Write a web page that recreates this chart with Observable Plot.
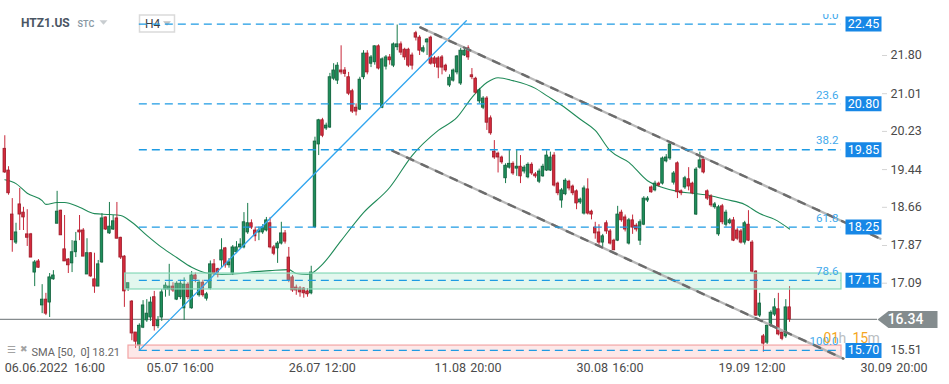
<!DOCTYPE html>
<html><head><meta charset="utf-8">
<script src="https://cdn.jsdelivr.net/npm/d3@7"></script>
<script src="https://cdn.jsdelivr.net/npm/@observablehq/plot@0.6"></script>
<style>html,body{margin:0;padding:0;background:#fff;}#chart{width:949px;height:384px;overflow:hidden;}</style>
</head><body><div id="chart"></div>
<script>
// ---- data (H4 candles, HTZ1.US) ----
const opens = [19.87,19.42,18.51,17.93,18.72,18.55,18.10,18.10,17.31,17.54,
16.63,16.75,16.69,17.17,18.32,18.59,17.79,17.58,17.50,17.73,
18.18,18.18,17.27,17.71,17.17,17.02,17.52,18.45,18.12,18.20,
18.43,18.03,17.64,16.98,16.71,16.07,15.80,16.17,16.32,16.38,
16.80,16.20,16.38,16.96,16.96,17.02,16.75,16.80,16.57,17.06,
16.57,17.25,16.84,17.10,16.77,16.98,17.48,17.38,17.56,17.81,
17.46,17.29,17.73,17.83,17.83,18.14,18.33,18.18,18.14,18.14,
18.18,18.33,17.83,17.81,17.91,18.12,17.62,17.21,17.00,16.98,
16.98,16.92,16.88,18.25,19.96,20.46,20.29,20.31,21.32,21.28,
21.49,21.49,21.35,21.06,20.72,20.68,21.35,21.84,21.63,21.66,
21.99,20.72,21.57,21.76,21.59,21.97,22.03,21.92,21.92,21.80,
22.26,22.17,21.88,22.07,22.17,21.74,21.74,21.76,21.59,21.18,
21.28,21.45,21.22,21.80,21.95,21.39,21.32,20.85,20.72,20.91,
20.50,19.81,19.77,19.69,19.26,19.48,19.56,19.46,19.50,19.40,
19.28,19.54,19.34,19.19,19.30,19.42,19.42,19.73,19.15,18.80,
18.93,19.19,19.09,18.99,18.76,18.53,19.03,18.57,18.24,18.14,
17.93,18.33,18.16,17.97,17.97,18.55,18.45,17.91,18.39,18.28,
17.97,18.30,18.80,19.07,19.01,19.15,19.15,19.61,19.67,19.17,
19.57,18.99,19.07,19.24,19.15,18.51,19.48,19.65,18.99,18.88,
18.66,18.10,18.68,18.30,18.33,18.39,18.18,18.16,17.93,18.30,
17.93,17.33,16.42,15.99,15.86,16.21,16.44,16.55,16.07,15.99,16.59];
const highs = [20.14,19.50,18.84,18.33,19.05,18.66,18.61,18.12,17.56,17.58,
17.06,16.88,17.29,17.35,18.99,18.60,18.49,17.60,17.97,18.14,
18.49,18.22,18.01,17.72,17.71,17.56,18.53,18.46,18.76,18.49,
18.76,18.04,17.66,17.09,16.73,16.07,16.25,16.73,16.75,16.80,
16.92,16.40,16.96,17.10,17.48,17.10,17.12,17.15,17.20,17.10,
17.33,17.30,17.15,17.15,16.90,17.55,17.58,17.40,18.01,17.83,
17.60,17.87,17.95,18.01,18.55,18.74,18.40,18.25,18.25,18.30,
18.45,18.45,17.87,17.95,18.35,18.18,17.83,17.25,17.05,17.02,
17.00,16.98,17.44,20.11,20.48,20.50,20.40,21.43,21.63,21.65,
22.00,21.55,21.45,21.10,20.80,21.35,21.90,21.90,21.80,22.00,
22.02,21.75,21.80,21.82,22.06,22.43,22.08,21.95,21.95,21.85,
22.30,22.21,22.00,22.15,22.20,21.78,21.78,21.80,21.62,21.40,
21.52,21.80,21.95,21.95,22.00,21.53,21.35,21.12,20.95,20.95,
20.55,20.04,19.80,19.72,19.56,19.85,19.60,19.85,19.73,19.52,
19.58,19.58,19.38,19.45,19.55,19.83,19.80,19.79,19.18,19.05,
19.25,19.22,19.12,19.02,18.85,19.10,19.25,18.60,18.35,18.30,
18.10,18.38,18.20,18.00,18.68,18.60,18.50,18.43,18.50,18.32,
18.40,18.88,18.88,19.10,19.20,19.18,19.70,19.75,20.00,19.40,
19.60,19.02,19.30,19.48,19.18,19.48,19.80,19.70,19.02,18.92,
18.76,18.70,18.72,18.60,18.43,18.45,18.22,18.20,18.37,18.59,
17.97,17.35,16.88,16.03,16.25,16.52,16.77,16.88,16.10,16.75,17.02];
const lows = [19.36,18.91,17.73,17.89,18.18,18.18,17.85,17.62,17.02,17.40,
16.46,16.42,16.38,17.15,18.32,18.08,17.54,17.29,17.31,17.62,
17.97,17.64,17.27,17.21,16.88,17.02,17.50,18.18,18.10,18.18,
18.01,17.58,16.59,16.92,15.90,15.74,15.70,16.15,16.28,16.30,
16.10,16.15,16.30,16.80,16.82,16.90,16.73,16.75,16.32,16.75,
16.55,17.10,16.80,16.80,16.72,16.95,17.25,17.20,17.40,17.40,
17.40,17.25,17.70,17.80,17.80,18.10,18.20,17.95,17.97,18.10,
18.15,17.80,17.66,17.50,17.88,17.90,17.10,16.90,16.84,16.80,
16.78,16.80,16.85,18.22,19.73,20.10,20.25,20.29,21.28,21.20,
21.40,21.35,20.97,20.60,20.55,20.66,21.30,21.40,21.55,21.60,
21.50,20.70,21.50,21.60,21.55,21.90,21.80,21.70,21.55,21.50,
22.10,21.80,21.85,21.80,21.60,21.55,21.32,21.40,21.45,21.14,
21.25,21.40,21.18,21.78,21.70,21.30,21.00,20.80,20.68,20.25,
20.15,19.65,19.37,19.55,19.15,19.45,19.32,19.30,19.15,19.35,
19.25,19.32,19.26,19.15,19.28,19.40,19.40,19.08,18.90,18.64,
18.90,19.00,18.90,18.61,18.72,18.50,18.50,18.40,18.00,17.85,
17.83,18.10,17.88,17.77,17.95,18.35,18.15,17.88,18.10,18.15,
17.87,18.28,18.76,18.95,18.98,19.08,19.12,19.58,19.63,19.12,
18.84,18.90,19.03,19.00,18.92,18.49,19.45,19.35,18.80,18.66,
18.62,18.06,18.30,18.25,18.30,17.95,17.97,17.90,17.88,17.95,
17.30,16.40,16.38,15.66,15.82,16.18,16.40,16.00,15.90,15.95,16.28];
const closes = [19.38,18.95,17.98,18.14,18.51,18.45,18.03,17.62,17.52,17.41,
16.75,16.46,17.21,17.25,18.57,18.08,17.54,17.46,17.73,17.95,
18.14,17.64,17.71,17.23,17.02,17.48,18.43,18.20,18.26,18.37,
18.01,17.62,16.92,17.09,16.05,15.88,16.21,16.63,16.46,16.69,
16.20,16.32,16.90,17.04,17.02,16.94,17.08,17.08,17.06,16.80,
17.25,17.17,17.10,16.84,16.86,17.48,17.29,17.31,17.77,17.46,
17.52,17.83,17.83,17.89,18.35,18.33,18.24,18.06,18.18,18.24,
18.39,17.83,17.70,17.91,18.12,17.95,17.15,16.94,16.94,16.90,
16.88,16.86,17.31,20.02,20.46,20.14,20.35,21.35,21.49,21.59,
21.45,21.42,21.01,20.64,20.64,21.30,21.84,21.45,21.76,21.99,
21.53,21.72,21.76,21.70,22.03,22.03,21.86,21.76,21.59,21.59,
22.17,21.90,21.95,22.13,21.63,21.63,21.55,21.55,21.49,21.34,
21.49,21.78,21.90,21.90,21.76,21.35,21.03,21.08,20.91,20.41,
20.19,19.69,19.69,19.59,19.52,19.56,19.36,19.50,19.30,19.48,
19.54,19.36,19.30,19.40,19.50,19.73,19.69,19.11,18.95,19.01,
19.21,19.05,18.95,18.74,18.82,19.05,18.53,18.51,18.12,17.93,
18.06,18.16,17.91,17.77,18.51,18.39,18.20,18.39,18.24,18.20,
18.35,18.84,18.84,18.97,19.15,19.11,19.67,19.69,19.96,19.36,
18.97,18.95,19.26,19.09,18.95,19.44,19.63,19.38,18.84,18.70,
18.72,18.66,18.35,18.55,18.39,17.97,18.01,17.93,18.33,17.97,
17.33,16.42,16.67,15.84,16.21,16.48,16.59,16.03,15.94,16.59,16.34];

const smaBars = [0,3,6,10,11,14,16,20,24,28,31,34,38,42,46,50,54,58,63,67,71,76,78,81,82,85,90,96,103,109,116,121,125,129,132,136,142,145,149,154,158,162,167,172,176,180,184,189,193,198,202,206,210];
const smaValues = [19.23,19.15,18.95,18.80,18.72,18.76,18.76,18.66,18.53,18.51,18.49,18.35,18.08,17.83,17.62,17.42,17.30,17.27,17.29,17.33,17.35,17.37,17.29,17.27,17.29,17.48,17.97,18.55,19.07,19.73,20.25,20.52,20.93,21.24,21.34,21.28,21.12,20.97,20.77,20.48,20.25,19.83,19.59,19.21,19.07,18.99,18.95,18.90,18.82,18.72,18.53,18.41,18.21];

const fibLevels = [22.45, 20.80, 19.85, 18.25, 17.15, 15.70];
const fibLabels = ["0.0", "23.6", "38.2", "61.8", "78.6", "100.0"];
const fibStartBar = 36;
const yTicks = [21.80, 21.01, 20.23, 19.44, 18.66, 17.87, 17.09];
const yTickBottom = [15.51];
const dateTickBars = [0, 38, 76, 115, 153, 191, 229];
const dateTickLabels = ["06.06.2022\u200216:00", "05.07\u00a0\u200a16:00", "26.07\u00a0\u200a12:00", "11.08\u00a0\u200a20:00", "30.08\u00a0\u200a16:00", "19.09\u00a0\u200a12:00", "30.09\u00a0\u200a20:00"];
const lastPrice = 16.34;
const smaLast = 18.21;
const zoneStartBars = [32.2, 33.1];
const zoneTops = [17.29, 15.80];
const zoneBottoms = [16.96, 15.53];
const trendBars = [36, 123.5];
const trendValues = [15.70, 22.52];
const upperChannelBars = [111.2, 234.3];
const upperChannelValues = [22.38, 18.01];
const lowerChannelBars = [103.7, 224.4];
const lowerChannelValues = [19.83, 15.53];

// ---- build ----
const bars = opens.map((o, i) => ({i, o, h: highs[i], l: lows[i], c: closes[i]}));
const upBars = bars.filter(d => d.c >= d.o);
const downBars = bars.filter(d => d.c < d.o);
const sma = smaBars.map((b, k) => ({i: b, v: smaValues[k]}));
const xMin = -1.15, xMax = 223.9;
const greenZone = [{s: zoneStartBars[0], t: zoneTops[0], b: zoneBottoms[0]}];
const redZone = [{s: zoneStartBars[1], t: zoneTops[1], b: zoneBottoms[1]}];
const trend = trendBars.map((b, k) => ({i: b, v: trendValues[k]}));
const upperCh = upperChannelBars.map((b, k) => ({i: b, v: upperChannelValues[k]}));
const lowerCh = lowerChannelBars.map((b, k) => ({i: b, v: lowerChannelValues[k]}));

const poly = pts => ({draw(ctx) { ctx.moveTo(pts[0][0], pts[0][1]); for (let k = 1; k < pts.length; k++) ctx.lineTo(pts[k][0], pts[k][1]); ctx.closePath(); }});
const rectSym = (w, h) => poly([[-w/2, -h/2], [w/2, -h/2], [w/2, h/2], [-w/2, h/2]]);
const triSym = (w, h) => poly([[-w/2, -h/2], [w/2, -h/2], [0, h/2]]);
const tagSym = poly([[-30, 0], [-19, -8.5], [30, -8.5], [30, 8.5], [-19, 8.5]]);

const font = "Roboto, 'Liberation Sans', sans-serif";
const mid = {lineAnchor: "middle"};

const chart = Plot.plot({
  width: 949, height: 384,
  marginTop: 14, marginBottom: 24, marginLeft: 0, marginRight: 108,
  x: {type: "linear", domain: [xMin, xMax], axis: null},
  y: {domain: [15.491, 22.648], axis: null},
  style: {fontFamily: font, background: "#fff", overflow: "visible"},
  marks: [
    Plot.ruleY([lastPrice], {stroke: "#868c8e", strokeWidth: 1.3, insetRight: -36}),
    Plot.line(sma, {x: "i", y: "v", stroke: "#1f8a58", strokeWidth: 1.1, curve: "monotone-x"}),
    Plot.ruleX(upBars, {x: "i", y1: "l", y2: "h", stroke: "#177a4b", strokeWidth: 1}),
    Plot.ruleX(downBars, {x: "i", y1: "l", y2: "h", stroke: "#c8283a", strokeWidth: 1}),
    Plot.rect(upBars, {x1: d => d.i - 0.34, x2: d => d.i + 0.34, y1: "o", y2: "c", fill: "#1e8e5b", stroke: "#0f5f3a", strokeWidth: 0.8}),
    Plot.rect(downBars, {x1: d => d.i - 0.34, x2: d => d.i + 0.34, y1: "o", y2: "c", fill: "#d42a3c", stroke: "#9c1a28", strokeWidth: 0.8}),
    Plot.rect(greenZone, {x1: "s", x2: () => xMax, y1: "b", y2: "t", fill: "#9fe3c8", fillOpacity: 0.3, stroke: "#86d9b8", strokeWidth: 1.2}),
    Plot.rect(redZone, {x1: "s", x2: () => xMax, y1: "b", y2: "t", fill: "#f7b3b3", fillOpacity: 0.3, stroke: "#f3a5a5", strokeWidth: 1.2}),
    Plot.line(trend, {x: "i", y: "v", stroke: "#33a6ef", strokeWidth: 1.3}),
    Plot.line(upperCh, {x: "i", y: "v", stroke: "#b8b8b8", strokeWidth: 2.4}),
    Plot.line(upperCh, {x: "i", y: "v", stroke: "#6c6c6c", strokeWidth: 2.4, strokeDasharray: "7,9"}),
    Plot.line(lowerCh, {x: "i", y: "v", stroke: "#b8b8b8", strokeWidth: 2.4}),
    Plot.line(lowerCh, {x: "i", y: "v", stroke: "#6c6c6c", strokeWidth: 2.4, strokeDasharray: "7,9"}),
    Plot.dot([0], {frameAnchor: "top-left", dx: 156.5, dy: 9, r: 5, symbol: rectSym(35, 17), fill: "#fff", stroke: "#dadada"}),
    Plot.text(["H4"], {frameAnchor: "top-left", dx: 144.5, dy: 10, ...mid, textAnchor: "start", fontSize: 12, fill: "#3d3d3d"}),
    Plot.dot([0], {frameAnchor: "top-left", dx: 166.5, dy: 9, r: 5, symbol: triSym(8, 4.5), fill: "#c2c2c2"}),
    Plot.ruleY(fibLevels, {y: d => d, x1: () => fibStartBar, x2: () => xMax, stroke: "#1e9be3", strokeWidth: 1.3, strokeDasharray: "8,5"}),
    Plot.text(fibLevels, {y: d => d, text: (d, k) => fibLabels[k], frameAnchor: "right", textAnchor: "end", ...mid, dx: -3, dy: -9, fill: "#3fa9ec", fontSize: 11.5, clip: true}),
    Plot.dot(fibLevels, {y: d => d, frameAnchor: "right", dx: 22, r: 5, symbol: rectSym(36, 15), fill: "#1787e6"}),
    Plot.text(fibLevels, {y: d => d, text: d => d.toFixed(2), frameAnchor: "right", textAnchor: "middle", ...mid, dx: 22, fill: "#fff", fontSize: 12.5}),
    Plot.ruleY(yTicks, {y: d => d, insetLeft: 882, insetRight: -46, stroke: "#d4d4d4"}),
    Plot.text(yTicks, {y: d => d, text: d => d.toFixed(2), frameAnchor: "right", textAnchor: "start", ...mid, dx: 49, fill: "#4a4a4a", fontSize: 12.5}),
    Plot.text(yTickBottom, {y: d => d, text: d => d.toFixed(2), frameAnchor: "right", textAnchor: "start", ...mid, dx: 49, dy: -10, fill: "#4a4a4a", fontSize: 12.5}),
    Plot.dot([lastPrice], {y: d => d, frameAnchor: "right", dx: 66, r: 5, symbol: tagSym, fill: "#848c8e"}),
    Plot.text([lastPrice], {y: d => d, text: d => d.toFixed(2), frameAnchor: "right", textAnchor: "middle", ...mid, dx: 64, fill: "#fff", fontSize: 14, fontWeight: 500}),
    Plot.text(dateTickBars, {x: d => d, text: (d, k) => dateTickLabels[k], frameAnchor: "bottom", textAnchor: "start", ...mid, dy: 7, fill: "#4a4a4a", fontSize: 12.5}),
    Plot.text(["HTZ1.US"], {frameAnchor: "top-left", dx: 20.5, dy: 9, ...mid, textAnchor: "start", fontSize: 12, fontWeight: "bold", fill: "#4a5663"}),
    Plot.text(["STC"], {frameAnchor: "top-left", dx: 77, dy: 10, ...mid, textAnchor: "start", fontSize: 9, fontWeight: 600, fill: "#8a99a4"}),
    Plot.dot([0], {frameAnchor: "top-left", dx: 103, dy: 8, r: 5, symbol: triSym(8, 4.5), fill: "#c8cdd0"}),
    Plot.text(["\u2630"], {frameAnchor: "bottom-left", dx: 6, dy: -11, ...mid, textAnchor: "start", fontSize: 10, fill: "#a3a3a3"}),
    Plot.text(["\u2716"], {frameAnchor: "bottom-left", dx: 19, dy: -11, ...mid, textAnchor: "start", fontSize: 9, fill: "#a3a3a3"}),
    Plot.text([smaLast], {text: d => `SMA [50,\u00a0 0] ${d.toFixed(2)}`, frameAnchor: "bottom-left", dx: 31, dy: -8, ...mid, textAnchor: "start", fontSize: 11, fill: "#666"}),
    Plot.text(["01"], {frameAnchor: "bottom-right", dx: -18, dy: -22, ...mid, textAnchor: "start", fontSize: 14, fill: "#f5a623"}),
    Plot.text(["h"], {frameAnchor: "bottom-right", dx: -3, dy: -22, ...mid, textAnchor: "start", fontSize: 14, fill: "#b9bec2"}),
    Plot.text(["15"], {frameAnchor: "bottom-right", dx: 11, dy: -22, ...mid, textAnchor: "start", fontSize: 14, fill: "#f5a623"}),
    Plot.text(["m"], {frameAnchor: "bottom-right", dx: 26, dy: -22, ...mid, textAnchor: "start", fontSize: 14, fill: "#b9bec2"})
  ]
});
document.getElementById("chart").appendChild(chart);
</script>
</body></html>
